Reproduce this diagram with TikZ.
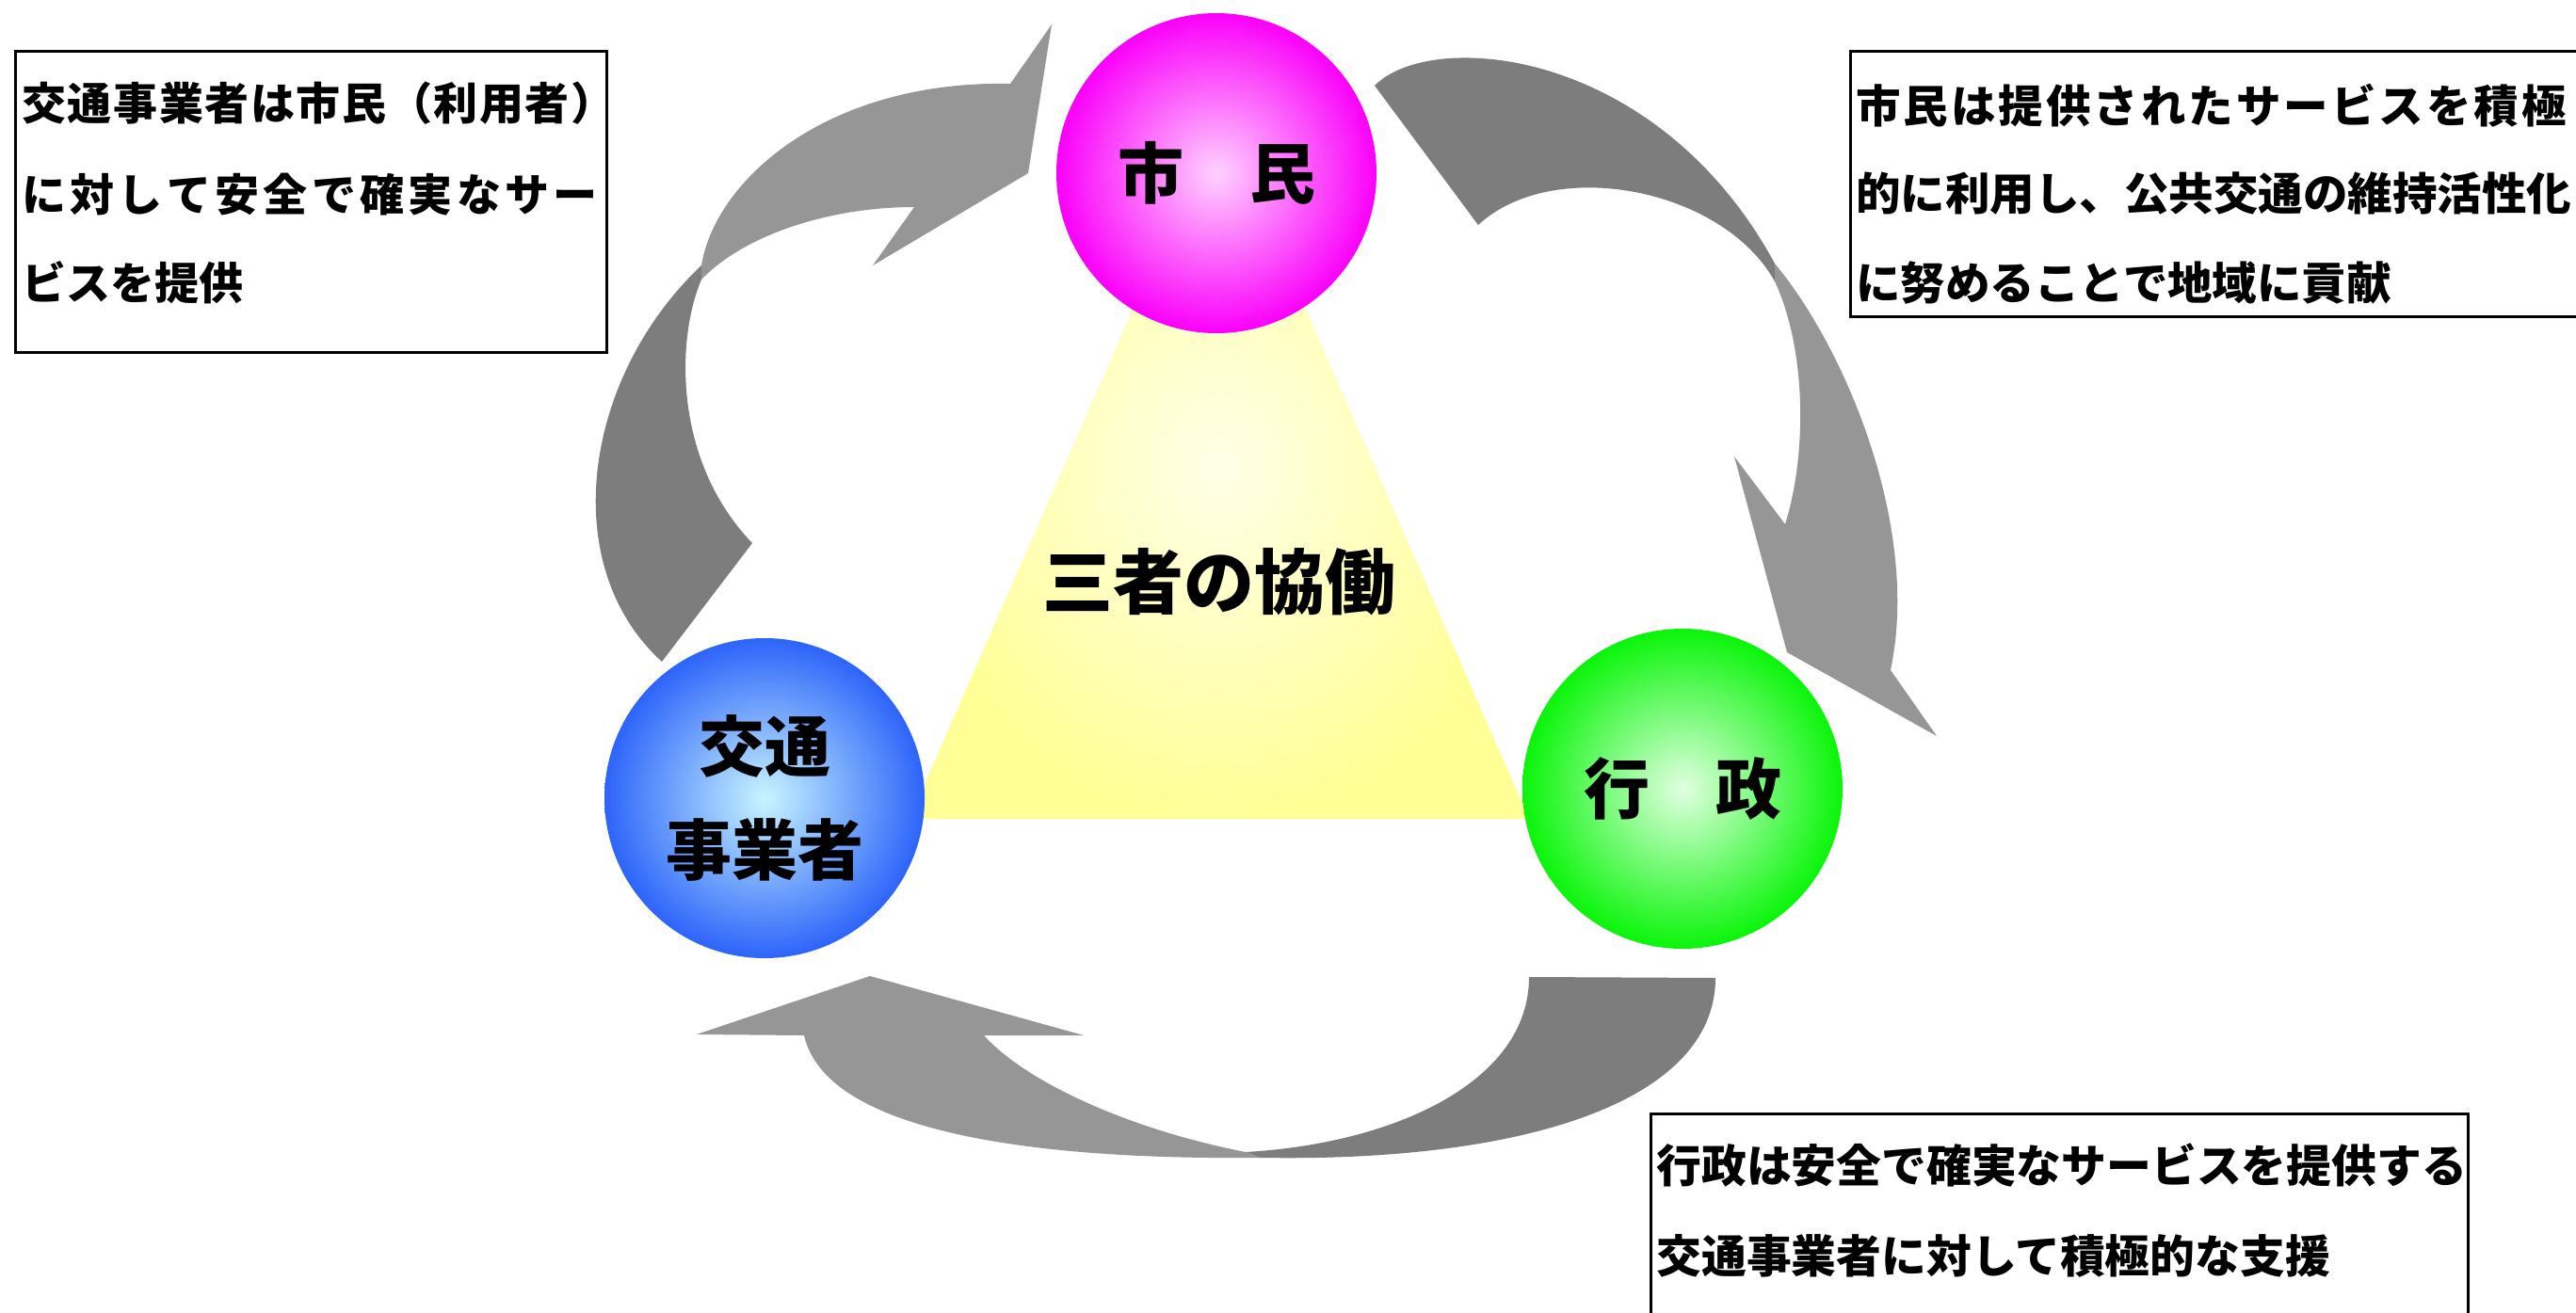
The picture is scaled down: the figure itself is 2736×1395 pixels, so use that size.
\documentclass[tikz,border=0pt]{standalone}
\usepackage{fontspec}
\newfontfamily\jp{Noto Sans CJK JP}
\makeatletter
\def\lsp#1#2{\def\lsp@k{#1}\lsp@a#2\lsp@end}
\def\lsp@a#1{\ifx\lsp@end#1\else#1\kern\lsp@k\expandafter\lsp@a\fi}
\def\lsp@end{}
\makeatother
\definecolor{arrdark}{RGB}{125,125,125}
\definecolor{arrlight}{RGB}{150,150,150}
\definecolor{magin}{RGB}{255,210,255}
\definecolor{magout}{RGB}{250,0,250}
\definecolor{bluin}{RGB}{200,245,255}
\definecolor{bluout}{RGB}{45,100,250}
\definecolor{grnin}{RGB}{225,255,225}
\definecolor{grnout}{RGB}{10,245,10}
\definecolor{triin}{RGB}{255,255,232}
\definecolor{triout}{RGB}{255,255,150}
\tikzset{
  ball/.style={circle, minimum size=170pt, inner sep=0pt, align=center,
    font=\jp\bfseries\fontsize{35}{55}\selectfont},
  tbox/.style={draw=black, line width=1.5pt, anchor=north west, inner sep=0pt},
  tline/.style={anchor=west, inner sep=0pt},
  arrd/.style={fill=arrdark},
  arrl/.style={fill=arrlight},
}
\begin{document}
\begin{tikzpicture}[x=0.5pt, y=-0.5pt]
\useasboundingbox (0,0) rectangle (2736,1395);
\clip (0,0) rectangle (2736,1395);
\fill[white] (0,0) rectangle (2736,1395);

% triangle
\shade[inner color=triin, outer color=triout] (1295,119) -- (966,870) -- (1624,870) -- cycle;

% left arrow (tail at bottom, head at top right)
\fill[arrd] (703,703) .. controls (590,600) and (620,400) .. (745,282)
  -- (745,297) .. controls (718,360) and (715,490) .. (799,577) -- cycle;
\fill[arrl] (745,282) .. controls (760,190) and (880,85) .. (1073,89)
  -- (1117,26) -- (1092,184) -- (927,282) -- (971,220)
  .. controls (880,220) and (790,250) .. (745,297) -- cycle;

% right arrow (tail at top left, head at bottom)
\fill[arrd] (1460,91) .. controls (1520,30) and (1760,50) .. (1885,280)
  -- (1885,299) .. controls (1830,200) and (1650,165) .. (1570,239) -- cycle;
\fill[arrl] (1885,280) .. controls (1960,370) and (2040,560) .. (2008,712)
  -- (2057,782) -- (1898,693) -- (1842,485) -- (1896,557)
  .. controls (1920,480) and (1918,370) .. (1885,299) -- cycle;

% bottom arrow (tail at right, head at left)
\fill[arrd] (1822,1039) .. controls (1822,1170) and (1620,1235) .. (1338,1230)
  -- (1323,1224) .. controls (1480,1215) and (1624,1150) .. (1624,1038) -- cycle;
\fill[arrl] (1338,1230) .. controls (1150,1232) and (880,1215) .. (854,1100)
  -- (740,1099) -- (924,1037) -- (1151,1100) -- (1045,1100)
  .. controls (1090,1150) and (1200,1200) .. (1323,1224) -- cycle;

% circles
\node[ball, inner color=magin, outer color=magout] (shimin) at (1292,184) {市　民};
\node[ball, inner color=bluin, outer color=bluout] (jigyo) at (812,848) {交通\\事業者};
\node[ball, inner color=grnin, outer color=grnout] (gyosei) at (1787,838) {行　政};

% center text
\node[inner sep=0pt, font=\jp\bfseries\fontsize{37.5}{40}\selectfont] (kyodo) at (1295,618) {三者の協働};

% text boxes
\node[tbox, minimum width=314pt, minimum height=160pt] (box1) at (15,53) {};
\begin{scope}[every node/.style={tline, font=\jp\bfseries\fontsize{23.5}{25}\selectfont}]
\node (b1a) at (23,110) {\lsp{0.8pt}{交通事業者は市民（利用者）}};
\node (b1b) at (23,207) {\lsp{2.15pt}{に対して安全で確実なサー}};
\node (b1c) at (23,300) {ビスを提供};
\end{scope}

\node[tbox, minimum width=400pt, minimum height=141pt] (box2) at (1964,53) {};
\begin{scope}[every node/.style={tline, font=\jp\bfseries\fontsize{23.75}{25}\selectfont}]
\node (b2a) at (1971,112) {\lsp{1.5pt}{市民は提供されたサービスを積極}};
\node (b2b) at (1971,206) {的に利用し、公共交通の維持活性化};
\node (b2c) at (1971,301) {に努めることで地域に貢献};
\end{scope}

\node[tbox, minimum width=434pt, minimum height=130pt] (box3) at (1752,1182) {};
\begin{scope}[every node/.style={tline, font=\jp\bfseries\fontsize{23.9}{25}\selectfont}]
\node (b3a) at (1759,1238) {行政は安全で確実なサービスを提供する};
\node (b3b) at (1759,1334) {交通事業者に対して積極的な支援};
\end{scope}
\end{tikzpicture}
\end{document}
